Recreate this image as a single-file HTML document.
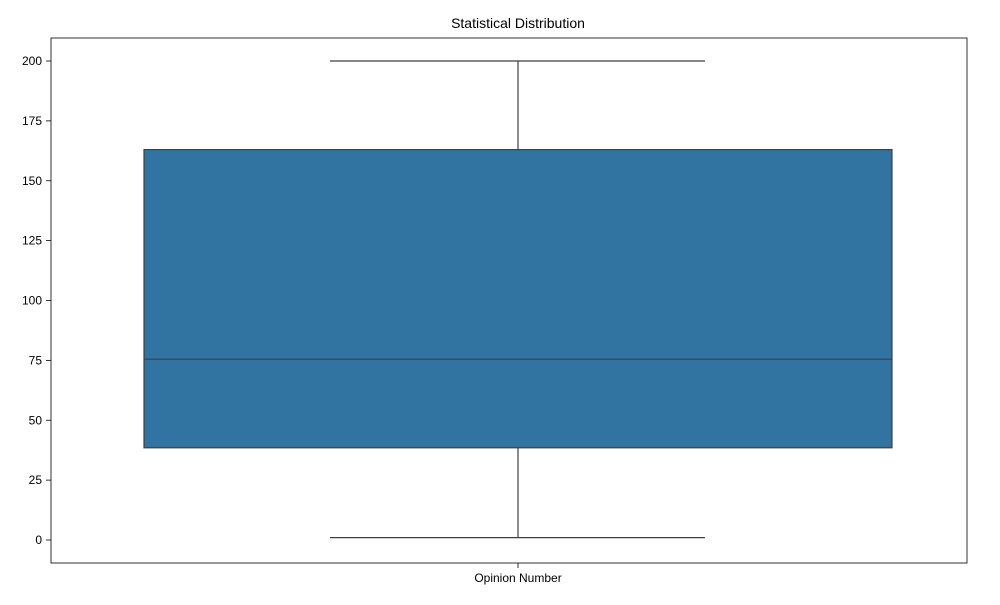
<!DOCTYPE html>
<html><head><meta charset="utf-8"><style>
body{margin:0;background:#fff;font-family:"Liberation Sans","DejaVu Sans",sans-serif;}
</style></head><body>
<svg id="chart" width="1000" height="600">
<text x="518" y="28" text-anchor="middle" font-size="14" fill="#000">Statistical Distribution</text>
<g id="yaxis"></g>
<g id="plot"></g>
<rect x="51" y="38" width="916" height="525" fill="none" stroke="#000" stroke-width="0.8"/>
<line x1="518" y1="563" x2="518" y2="568" stroke="#000" stroke-width="0.8"/>
<text x="518" y="582" text-anchor="middle" font-size="12">Opinion Number</text>
</svg>
<script>
const categories=["Opinion Number"];
const whiskerLow=[1];
const q1=[38.5];
const median=[75.5];
const q3=[163];
const whiskerHigh=[200];
const yTicks=[0,25,50,75,100,125,150,175,200];
const NS="http://www.w3.org/2000/svg";
function y(v){return 540-(v/200)*479;}
function mk(t,a,p){const e=document.createElementNS(NS,t);for(const k in a)e.setAttribute(k,a[k]);p.appendChild(e);return e;}
const ya=document.getElementById('yaxis');
yTicks.forEach(t=>{
  const l=mk('line',{x1:46,x2:51,y1:y(t),y2:y(t),stroke:'#000','stroke-width':0.8},ya);
  
  
  const tx=mk('text',{x:42,y:y(t)+4,'text-anchor':'end','font-size':12},ya);
  tx.textContent=t;
  
  
});
const p=document.getElementById('plot');
categories.forEach((c,i)=>{
  const cx=518,bx0=144,bx1=892,cx0=330,cx1=705,s='#3f3f3f';
  const w1=mk('line',{x1:cx,x2:cx,y1:y(q3[i]),y2:y(whiskerHigh[i]),stroke:s,'stroke-width':1.2},p);
  
  
  const w2=mk('line',{x1:cx,x2:cx,y1:y(q1[i]),y2:y(whiskerLow[i]),stroke:s,'stroke-width':1.2},p);
  
  
  const c1=mk('line',{x1:cx0,x2:cx1,y1:y(whiskerHigh[i]),y2:y(whiskerHigh[i]),stroke:s,'stroke-width':1.2},p);
  
  
  const c2=mk('line',{x1:cx0,x2:cx1,y1:y(whiskerLow[i]),y2:y(whiskerLow[i]),stroke:s,'stroke-width':1.2},p);
  
  
  const b=mk('rect',{x:bx0,y:y(q3[i]),width:bx1-bx0,height:y(q1[i])-y(q3[i]),fill:'#3274a1',stroke:s,'stroke-width':1.2},p);
  
  
  const m=mk('line',{x1:bx0,x2:bx1,y1:y(median[i]),y2:y(median[i]),stroke:s,'stroke-width':1.2},p);
  
  
});
</script>
</body></html>
